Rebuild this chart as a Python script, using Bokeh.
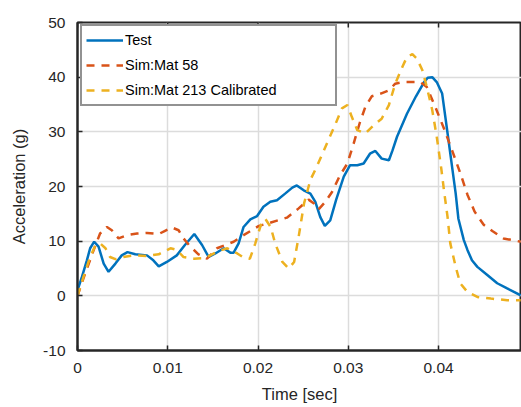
import math
from bokeh.plotting import figure
from bokeh.models import Range1d, Legend, LegendItem, FixedTicker
from bokeh.embed import file_html
from bokeh.resources import INLINE

# ---- data (time in seconds, acceleration in g) ----
test_t = [0, 0.0005, 0.00104, 0.0014, 0.00185, 0.00233, 0.0029, 0.00344, 0.0042, 0.0049,
          0.00554, 0.0064, 0.0077, 0.0084, 0.009, 0.0099, 0.011, 0.0119, 0.01294, 0.0138,
          0.01453, 0.01527, 0.0162, 0.01693, 0.0173, 0.01785, 0.0184, 0.01915, 0.0199, 0.0206,
          0.02136, 0.0221, 0.0230, 0.0238, 0.0243, 0.02506, 0.0258, 0.02635, 0.0269, 0.0274,
          0.0280, 0.02866, 0.0295, 0.0302, 0.0310, 0.0317, 0.0324, 0.0330, 0.0337, 0.0345,
          0.0349, 0.0354, 0.0365, 0.0375, 0.0384, 0.0388, 0.0393, 0.0398, 0.0404, 0.0411,
          0.0415, 0.0419, 0.0422, 0.0428, 0.0432, 0.0437, 0.0443, 0.0454, 0.0465, 0.0476,
          0.0491]
test_g = [1.0, 3.5, 6.5, 8.7, 9.9, 9.0, 5.9, 4.4, 5.9, 7.4,
          8.0, 7.6, 7.4, 6.5, 5.4, 6.2, 7.4, 9.3, 11.3, 9.3,
          7.1, 7.75, 8.7, 7.9, 7.9, 9.6, 12.6, 14.0, 14.6, 16.3,
          17.2, 17.5, 18.7, 19.8, 20.2, 19.3, 18.7, 17.2, 14.4, 12.8,
          13.8, 17.6, 21.8, 23.9, 23.9, 24.2, 26.0, 26.5, 25.1, 24.8,
          26.6, 29.1, 33.3, 36.5, 39.1, 39.9, 40.0, 39.1, 37.0, 28.5,
          23.6, 18.7, 14.1, 10.2, 8.4, 6.5, 5.3, 3.8, 2.3, 1.35,
          0.1]

mat58_t = [0, 0.00085, 0.0018, 0.0025, 0.00326, 0.0038, 0.00455, 0.0055, 0.0066, 0.0077,
           0.009, 0.0097, 0.01047, 0.0112, 0.01175, 0.0125, 0.0134, 0.01435, 0.01545, 0.0173,
           0.0184, 0.0201, 0.0210, 0.0232, 0.0245, 0.0256, 0.0262, 0.0267, 0.02746, 0.0282,
           0.0291, 0.0299, 0.0306, 0.0313, 0.0319, 0.0326, 0.0336, 0.0345, 0.0352, 0.0361,
           0.0380, 0.0387, 0.0397, 0.0406, 0.0415, 0.0424, 0.0432, 0.0440, 0.0450, 0.0460,
           0.0472, 0.0491]
mat58_g = [0, 4.1, 8.4, 11.4, 12.6, 12.0, 10.5, 11.1, 11.4, 11.5,
           11.3, 11.9, 12.5, 12.0, 10.5, 9.0, 7.6, 6.8, 8.7, 9.9,
           11.1, 12.8, 13.2, 14.3, 16.0, 17.6, 16.9, 15.8, 17.2, 19.0,
           22.1, 24.2, 27.9, 31.8, 34.6, 36.5, 37.0, 37.6, 38.8, 39.1,
           39.1, 38.2, 34.3, 30.6, 26.6, 22.5, 18.5, 15.4, 13.0, 11.8,
           10.5, 9.9]

mat213_t = [0, 0.00067, 0.0014, 0.0020, 0.0025, 0.0031, 0.0036, 0.0042, 0.0051, 0.0062,
            0.0077, 0.009, 0.0103, 0.011, 0.01175, 0.0129, 0.0140, 0.0147, 0.0156, 0.0166,
            0.0177, 0.0184, 0.0191, 0.0197, 0.0203, 0.0208, 0.0214, 0.0219, 0.0227, 0.0234,
            0.0240, 0.0245, 0.0251, 0.0258, 0.0265, 0.0273, 0.0278, 0.0286, 0.0293, 0.0299,
            0.0304, 0.0310, 0.0319, 0.0328, 0.0337, 0.0345, 0.0352, 0.0360, 0.0365, 0.0371,
            0.0376, 0.0382, 0.0387, 0.0393, 0.0398, 0.0403, 0.0406, 0.0410, 0.0413, 0.0419,
            0.0424, 0.0432, 0.0443, 0.0458, 0.0476, 0.0491]
mat213_g = [0, 3.5, 7.1, 9.3, 9.6, 8.7, 7.1, 6.7, 7.1, 7.4,
            7.3, 7.6, 8.7, 8.4, 7.1, 6.8, 6.9, 7.4, 8.2, 8.7,
            7.75, 7.0, 6.8, 9.6, 12.9, 14.1, 12.6, 9.6, 6.2, 5.0,
            6.2, 10.8, 16.9, 21.2, 23.6, 26.6, 28.5, 31.5, 34.3, 34.9,
            32.7, 30.3, 29.7, 31.2, 32.4, 34.9, 38.8, 41.9, 43.7, 44.2,
            43.4, 41.3, 38.2, 34.0, 29.1, 23.3, 19.3, 14.4, 9.6, 5.3,
            2.3, 0.7, -0.2, -0.5, -0.8, -0.8]

series_names = ["Test", "Sim:Mat 58", "Sim:Mat 213 Calibrated"]

x_ticks = [0, 0.01, 0.02, 0.03, 0.04]
x_tick_labels = ["0", "0.01", "0.02", "0.03", "0.04"]
y_ticks = [-10, 0, 10, 20, 30, 40, 50]
y_tick_labels = ["-10", "0", "10", "20", "30", "40", "50"]

# ---- styles ----
TXT = "#262626"
FONT = "Liberation Sans"
C_BLUE = "#0072BD"
C_ORANGE = "#D95319"
C_YELLOW = "#EDB120"
DASH = "8 7"

p = figure(width=521, height=407, output_backend="svg", toolbar_location=None,
           x_range=Range1d(0, 0.04919), y_range=Range1d(y_ticks[0], y_ticks[-1]),
           min_border_left=77, min_border_right=0, min_border_top=22, min_border_bottom=57,
           background_fill_color="white", border_fill_color="white")

p.outline_line_color = TXT
p.outline_line_width = 2

for ax in (p.xaxis[0], p.yaxis[0]):
    ax.axis_line_color = TXT
    ax.axis_line_width = 2
    ax.major_tick_in = 5
    ax.major_tick_out = 0
    ax.major_tick_line_color = TXT
    ax.major_tick_line_width = 1.5
    ax.minor_tick_line_color = None
    ax.major_label_text_font = FONT
    ax.major_label_text_font_size = "15.5px"
    ax.major_label_text_color = TXT
    ax.axis_label_text_font = FONT
    ax.axis_label_text_font_size = "16.5px"
    ax.axis_label_text_font_style = "normal"
    ax.axis_label_text_color = TXT

p.xaxis[0].ticker = FixedTicker(ticks=x_ticks)
p.xaxis[0].major_label_overrides = {t: l for t, l in zip(x_ticks, x_tick_labels)}
p.xaxis[0].major_label_standoff = 12
p.xaxis[0].axis_label = "Time [sec]"
p.xaxis[0].axis_label_standoff = 9

p.yaxis[0].ticker = FixedTicker(ticks=y_ticks)
p.yaxis[0].major_label_overrides = {t: l for t, l in zip(y_ticks, y_tick_labels)}
p.yaxis[0].major_label_standoff = 12
p.yaxis[0].axis_label = "Acceleration (g)"
p.yaxis[0].axis_label_standoff = 12

p.xgrid.ticker = FixedTicker(ticks=x_ticks)
p.ygrid.ticker = FixedTicker(ticks=y_ticks)
for g in (p.xgrid[0], p.ygrid[0]):
    g.grid_line_color = "#dcdcdc"
    g.grid_line_width = 1.5

# inward tick marks on the top edge of the box
p.scatter(x=x_ticks, y=[y_ticks[-1]] * len(x_ticks), marker="dash", angle=math.pi / 2,
          size=10, line_color=TXT, line_width=1.5)

r1 = p.line(test_t, test_g, line_color=C_BLUE, line_width=2.5)
r2 = p.line(mat58_t, mat58_g, line_color=C_ORANGE, line_width=2.5, line_dash=DASH)
r3 = p.line(mat213_t, mat213_g, line_color=C_YELLOW, line_width=2.5, line_dash=DASH)

legend = Legend(items=[LegendItem(label=series_names[0], renderers=[r1]),
                       LegendItem(label=series_names[1], renderers=[r2]),
                       LegendItem(label=series_names[2], renderers=[r3])],
                location=(3, 244), padding=4, spacing=5, margin=0,
                glyph_width=37, glyph_height=20, label_height=20, label_width=206,
                label_standoff=2, label_text_font=FONT, label_text_font_size="14.5px",
                label_text_color="#000000", border_line_color=TXT, border_line_width=2,
                background_fill_color="white", background_fill_alpha=1.0)
p.add_layout(legend)

open("out.html", "w").write(file_html(p, INLINE))
